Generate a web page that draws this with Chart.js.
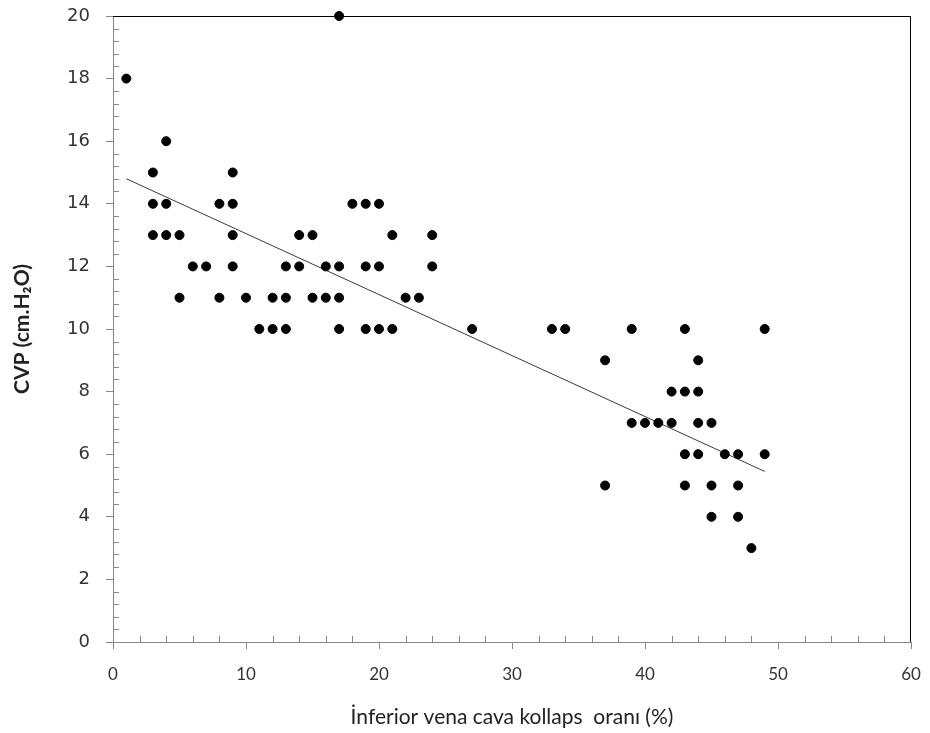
<!DOCTYPE html>
<html><head><meta charset="utf-8">
<script src="https://cdn.jsdelivr.net/npm/chart.js@4/dist/chart.umd.min.js"></script>
<style>html,body{margin:0;padding:0;background:#fff}#wrap{width:930px;height:733px;position:relative}</style>
</head><body><div id="wrap"><canvas id="c"></canvas></div>
<script>
// Data
const collapseX = [1,17,4,3,9,
  3,4,8,9,18,19,20,
  3,4,5,9,14,15,21,24,
  6,7,9,13,14,16,17,19,20,24,
  5,8,10,12,13,15,16,17,22,23,
  11,12,13,17,19,20,21,27,33,34,39,43,49,
  37,44,
  42,43,44,
  39,40,41,42,44,45,
  43,44,46,47,49,
  37,43,45,47,
  45,47,
  48];
const cvpY = [18,20,16,15,15,
  14,14,14,14,14,14,14,
  13,13,13,13,13,13,13,13,
  12,12,12,12,12,12,12,12,12,12,
  11,11,11,11,11,11,11,11,11,11,
  10,10,10,10,10,10,10,10,10,10,10,10,10,
  9,9,
  8,8,8,
  7,7,7,7,7,7,
  6,6,6,6,6,
  5,5,5,5,
  4,4,
  3];
const trendX = [1, 49];
const trendY = [14.8, 5.45];
const xTickValues = [0,10,20,30,40,50,60];
const yTickValues = [0,2,4,6,8,10,12,14,16,18,20];
const xTitle = 'İnferior vena cava kollaps  oranı (%)';
const yTitle = 'CVP (cm.H₂O)';

const points = collapseX.map((x,i)=>({x:x, y:cvpY[i]}));
const trend = trendX.map((x,i)=>({x:x, y:trendY[i]}));

const AXIS_GRAY = '#868686';

const framePlugin = {
  id: 'frame',
  beforeDatasetsDraw(chart) {
    const {ctx, chartArea:a, scales} = chart;
    ctx.save();
    ctx.strokeStyle = '#000';
    ctx.lineWidth = 1;
    ctx.beginPath();
    ctx.moveTo(a.left, a.top + 0.5); ctx.lineTo(a.right, a.top + 0.5);
    ctx.moveTo(a.right - 0.5, a.top); ctx.lineTo(a.right - 0.5, a.bottom);
    ctx.stroke();
    ctx.strokeStyle = AXIS_GRAY;
    ctx.beginPath();
    const ys = scales.y;
    for (let v = 0; v <= 20.001; v += 0.4) {
      const r = Math.round(v*10)/10;
      if (Math.abs(r/2 - Math.round(r/2)) < 1e-6) continue;
      const py = Math.round(ys.getPixelForValue(r)) + 0.5;
      ctx.moveTo(a.left, py); ctx.lineTo(a.left + 6, py);
    }
    const xs = scales.x;
    for (let v = 0; v <= 60; v += 2) {
      if (v % 10 === 0) continue;
      const px = Math.round(xs.getPixelForValue(v)) + 0.5;
      ctx.moveTo(px, a.bottom); ctx.lineTo(px, a.bottom - 6);
    }
    ctx.stroke();
    ctx.restore();
  }
};

new Chart(document.getElementById('c'), {
  type: 'scatter',
  data: {
    datasets: [
      {
        label: 'CVP',
        data: points,
        backgroundColor: '#000',
        borderColor: '#000',
        pointRadius: 4.5,
        pointHoverRadius: 4.5,
        clip: false,
        order: 1
      },
      {
        label: 'Trend',
        type: 'line',
        data: trend,
        showLine: true,
        borderColor: '#3a3a3a',
        borderWidth: 1,
        pointRadius: 0,
        fill: false,
        order: 2
      }
    ]
  },
  options: {
    responsive: true,
    maintainAspectRatio: false,
    animation: false,
    layout: { padding: { top: 16, right: 19, left: 0, bottom: 0 } },
    plugins: { legend: { display: false }, tooltip: { enabled: false } },
    scales: {
      x: {
        type: 'linear', min: 0, max: 60,
        afterBuildTicks(s) { s.ticks = xTickValues.map(v => ({value: v})); },
        afterFit(s) { s.height = 91; s.paddingLeft = 0; s.paddingRight = 0; },
        ticks: { color: '#333', padding: 15, font: { family: 'Lato, sans-serif', size: 17 }, maxRotation: 0 },
        grid: { drawOnChartArea: false, drawTicks: true, tickLength: 7, color: AXIS_GRAY },
        border: { display: true, color: AXIS_GRAY, width: 1 },
        title: { display: true, text: xTitle, color: '#222', padding: { top: 0, bottom: 3 },
          font: { family: 'Lato, sans-serif', size: 21, weight: 'normal' } }
      },
      y: {
        type: 'linear', min: 0, max: 20,
        afterBuildTicks(s) { s.ticks = yTickValues.map(v => ({value: v})); },
        afterFit(s) { s.width = 113; s.paddingTop = 0; s.paddingBottom = 0; },
        ticks: { color: '#333', padding: 16, font: { family: '"DejaVu Sans", sans-serif', size: 18 } },
        grid: { drawOnChartArea: false, drawTicks: true, tickLength: 7, color: AXIS_GRAY },
        border: { display: true, color: AXIS_GRAY, width: 1 },
        title: { display: true, text: yTitle, color: '#222', padding: { top: 10, bottom: 0 },
          font: { family: 'Lato, sans-serif', size: 21, weight: 'bold' } }
      }
    }
  },
  plugins: [framePlugin]
});
</script>
</body></html>
